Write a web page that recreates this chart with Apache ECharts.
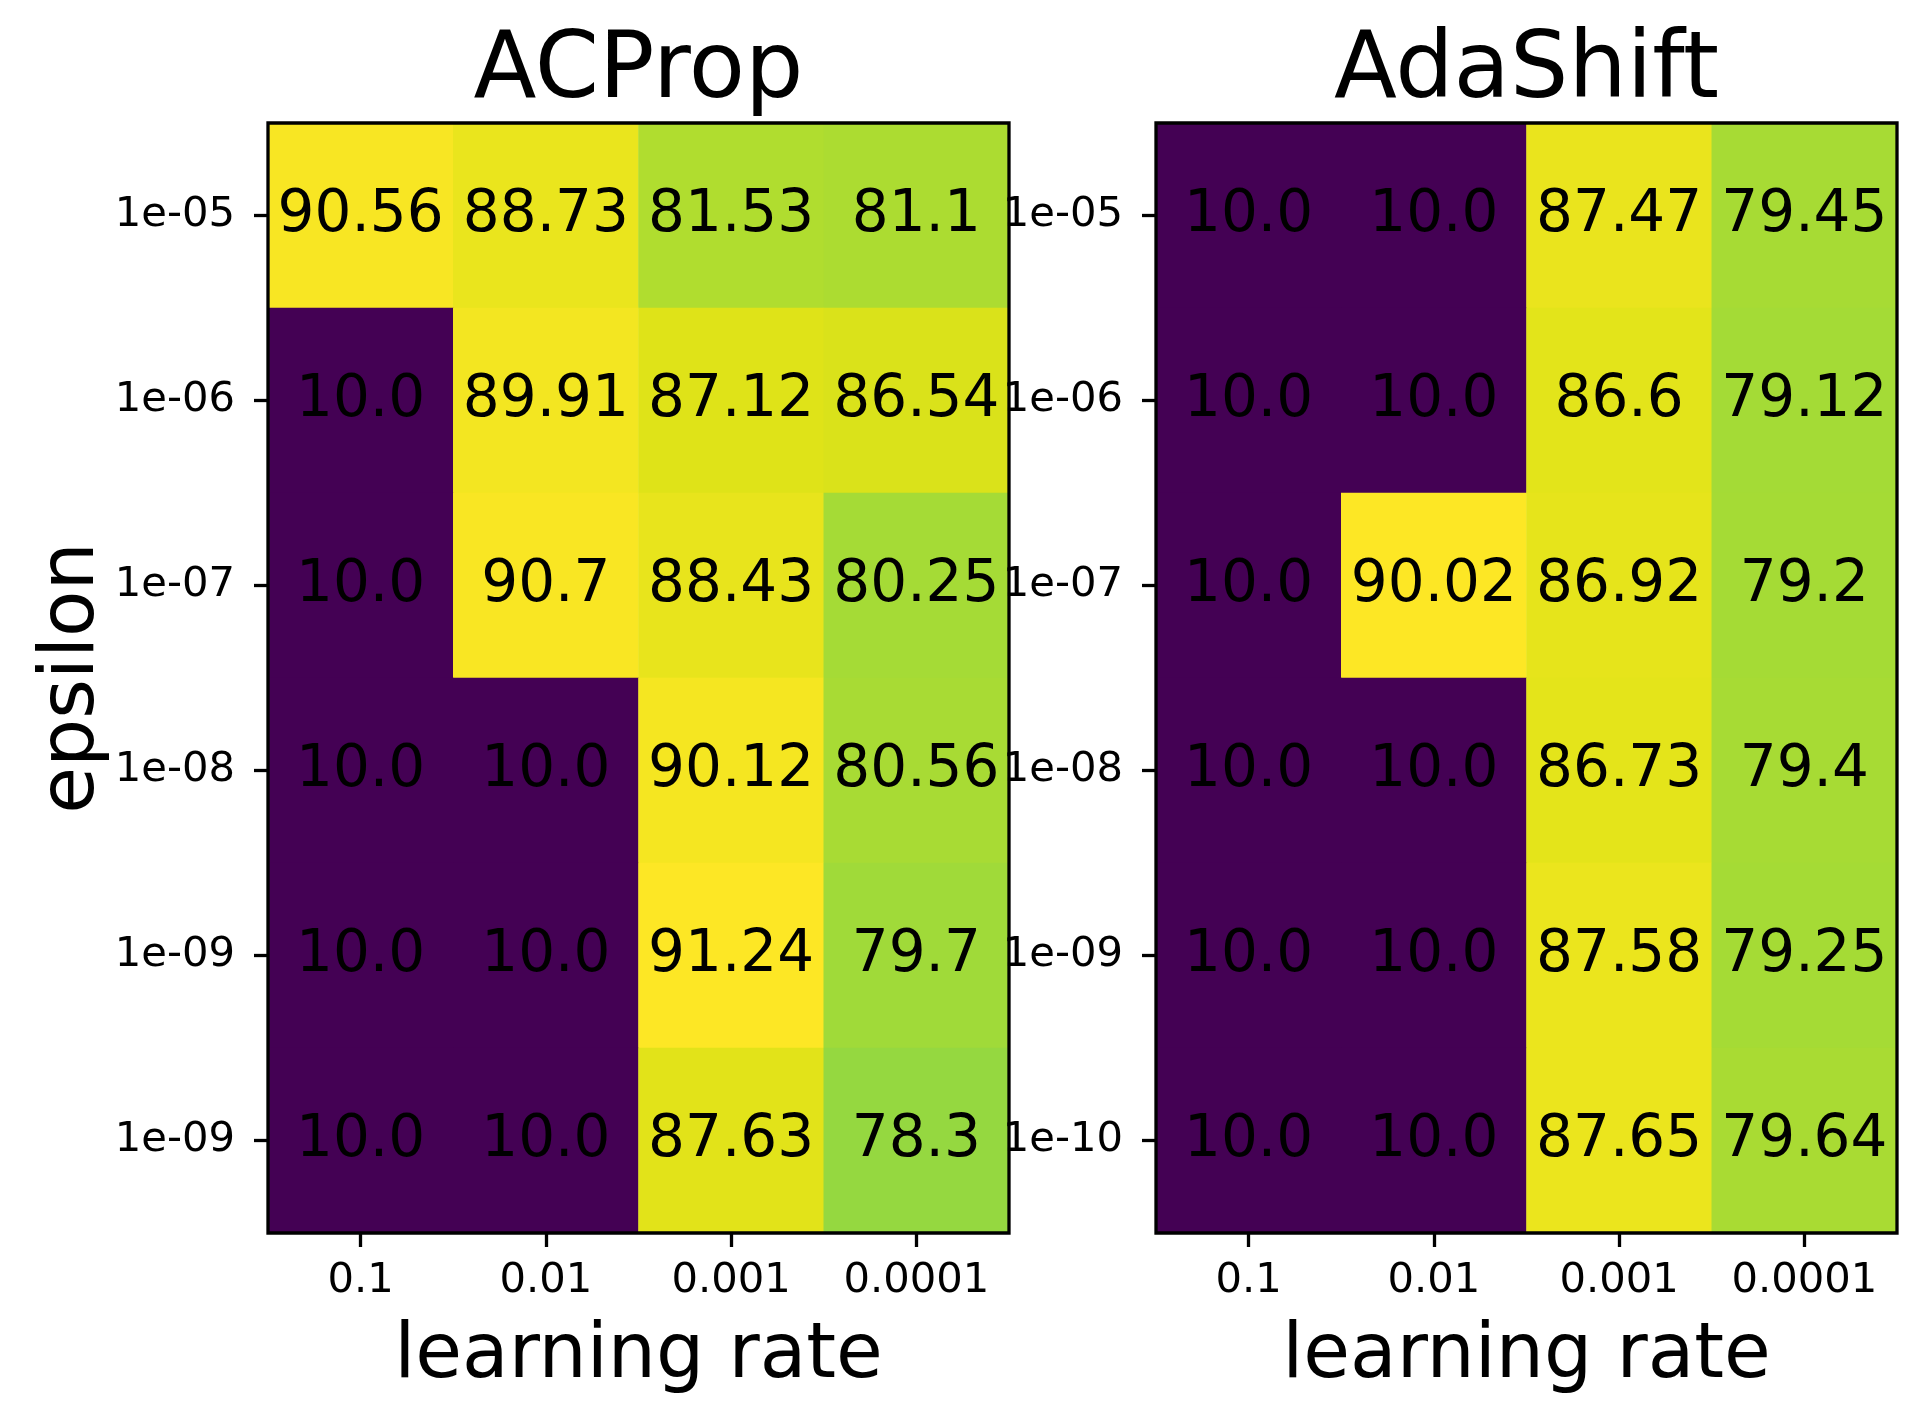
<!DOCTYPE html>
<html>
<head>
<meta charset="utf-8">
<title>ACProp / AdaShift</title>
<script src="https://cdn.jsdelivr.net/npm/echarts@6/dist/echarts.min.js"></script>
<style>
    html, body { margin: 0; padding: 0; background: #fff; }
    #chart { width: 1926px; height: 1422px; }
</style>
</head>
<body>
<div id="chart"></div>
<script>
// 横轴：学习率
var learningRates = ["0.1", "0.01", "0.001", "0.0001"];
// 纵轴：epsilon（两张图各自的刻度）
var acpropEps = ["1e-05", "1e-06", "1e-07", "1e-08", "1e-09", "1e-09"];
var adashiftEps = ["1e-05", "1e-06", "1e-07", "1e-08", "1e-09", "1e-10"];
// 每行一个 epsilon，每列一个学习率
var acpropAcc = [
    [90.56, 88.73, 81.53, 81.1],
    [10.0, 89.91, 87.12, 86.54],
    [10.0, 90.7, 88.43, 80.25],
    [10.0, 10.0, 90.12, 80.56],
    [10.0, 10.0, 91.24, 79.7],
    [10.0, 10.0, 87.63, 78.3]
];
var adashiftAcc = [
    [10.0, 10.0, 87.47, 79.45],
    [10.0, 10.0, 86.6, 79.12],
    [10.0, 90.02, 86.92, 79.2],
    [10.0, 10.0, 86.73, 79.4],
    [10.0, 10.0, 87.58, 79.25],
    [10.0, 10.0, 87.65, 79.64]
];
var titles = ["ACProp", "AdaShift"];

// viridis，每 0.05 一个色标
var viridis = ["#440154", "#471365", "#482475", "#463480", "#414487", "#3b528b", "#355f8d",
    "#2f6c8e", "#2a788e", "#25848e", "#21918c", "#1e9c89", "#22a884", "#2fb47c", "#44bf70",
    "#5ec962", "#7ad151", "#9bd93c", "#bddf26", "#dfe318", "#fde725"];

var page = {
    font: "DejaVu Sans",
    init: function () {
        var chart = echarts.init(document.getElementById("chart"), null, { renderer: "canvas" });
        chart.setOption(page.buildOption(), true);
    },
    toCells: function (matrix) {
        var cells = [];
        for (var r = 0; r < matrix.length; r++) {
            for (var c = 0; c < matrix[r].length; c++) {
                cells.push([c, r, matrix[r][c]]);
            }
        }
        return cells;
    },
    range: function (matrix) {
        var all = [].concat.apply([], matrix);
        return { min: Math.min.apply(null, all), max: Math.max.apply(null, all) };
    },
    fmt: function (v) {
        // 跟 matplotlib 的 str(round(v, 2)) 一样，整数也带 .0
        return v % 1 === 0 ? v.toFixed(1) : String(v);
    },
    buildOption: function () {
        var grids = [
            { left: 268, top: 123, width: 741, height: 1110 },
            { left: 1156, top: 123, width: 741, height: 1110 }
        ];
        var yLabels = [acpropEps, adashiftEps];
        var mats = [acpropAcc, adashiftAcc];

        var option = {
            animation: false,
            backgroundColor: "#fff",
            textStyle: { fontFamily: page.font, color: "#000" },
            grid: [],
            xAxis: [],
            yAxis: [],
            visualMap: [],
            series: []
        };

        for (var i = 0; i < 2; i++) {
            option.grid.push({
                left: grids[i].left, top: grids[i].top,
                width: grids[i].width, height: grids[i].height,
                show: true, z: 10,
                borderColor: "#000", borderWidth: 3.3,
                backgroundColor: "transparent"
            });
            // 下方：刻度 + learning rate
            option.xAxis.push({
                type: "category", gridIndex: i, position: "bottom", z: 10,
                data: learningRates,
                name: "learning rate", nameLocation: "middle", nameGap: 86,
                nameTextStyle: { fontSize: 76, fontFamily: page.font, color: "#000" },
                axisLine: { show: false },
                axisTick: { show: true, interval: 0, alignWithLabel: true, length: 14, lineStyle: { color: "#000", width: 3.3 } },
                axisLabel: { interval: 0, fontSize: 41.7, color: "#000", margin: 27, fontFamily: page.font },
                splitLine: { show: false }
            });
            // 上方：只用来放标题
            option.xAxis.push({
                type: "category", gridIndex: i, position: "top",
                data: learningRates,
                name: titles[i], nameLocation: "middle", nameGap: 4,
                nameTextStyle: { fontSize: 92, fontFamily: page.font, color: "#000" },
                axisLine: { show: false }, axisTick: { show: false }, axisLabel: { show: false },
                splitLine: { show: false }
            });
            option.yAxis.push({
                type: "category", gridIndex: i, inverse: true, z: 10,
                data: yLabels[i],
                name: i === 0 ? "epsilon" : "", nameLocation: "middle", nameGap: 157, nameRotate: 90,
                nameTextStyle: { fontSize: 76, fontFamily: page.font, color: "#000" },
                axisLine: { show: false },
                axisTick: { show: true, interval: 0, alignWithLabel: true, length: 14, lineStyle: { color: "#000", width: 3.3 } },
                axisLabel: { interval: 0, fontSize: 41.7, color: "#000", margin: 33, fontFamily: page.font },
                splitLine: { show: false }
            });

            var rg = page.range(mats[i]);
            option.visualMap.push({
                type: "continuous", show: false, seriesIndex: i,
                min: rg.min, max: rg.max, dimension: 2,
                inRange: { color: viridis }
            });
            option.series.push({
                type: "heatmap",
                xAxisIndex: i * 2, yAxisIndex: i,
                data: page.toCells(mats[i]),
                itemStyle: { borderWidth: 0 },
                label: {
                    show: true, color: "#000", fontSize: 58, fontFamily: page.font,
                    formatter: function (p) { return page.fmt(p.value[2]); }
                },
                emphasis: { disabled: true }
            });
        }
        return option;
    }
};

page.init();
</script>
</body>
</html>
